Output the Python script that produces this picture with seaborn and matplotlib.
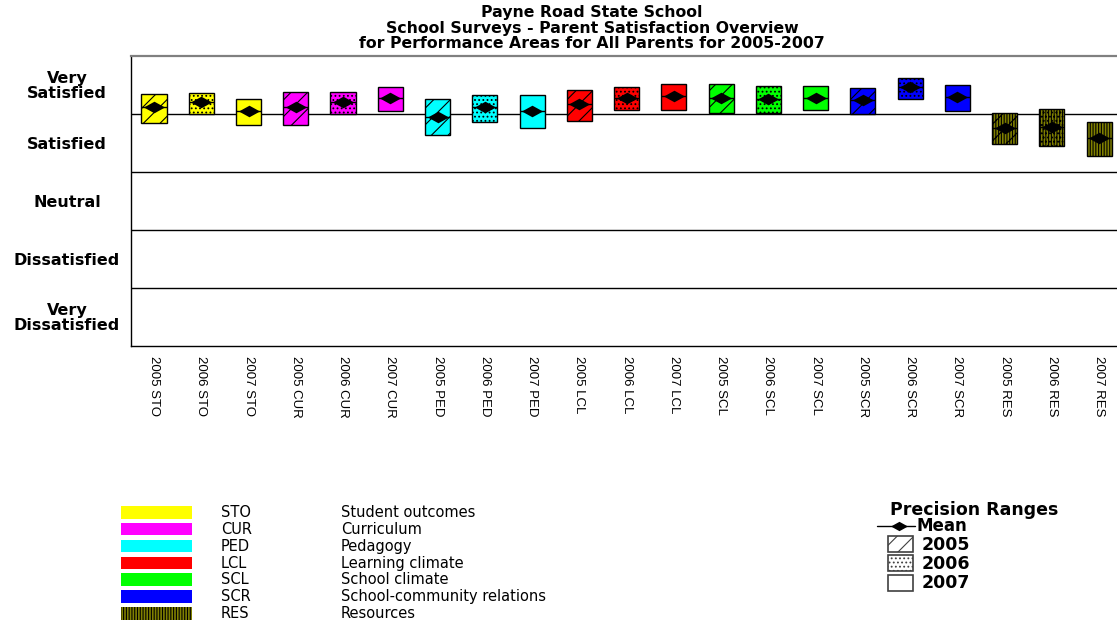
"""Payne Road State School - parent satisfaction precision ranges chart."""

import matplotlib
matplotlib.use("Agg")
import matplotlib.pyplot as plt
from matplotlib.patches import Rectangle
from matplotlib.lines import Line2D
from matplotlib.path import Path as MPath
import pandas as pd
import seaborn as sns

AREAS = ["STO", "CUR", "PED", "LCL", "SCL", "SCR", "RES"]
AREA_NAMES = ["Student outcomes", "Curriculum", "Pedagogy", "Learning climate",
              "School climate", "School-community relations", "Resources"]
AREA_COLORS = ["#ffff00", "#ff00ff", "#00ffff", "#ff0000", "#00ff00", "#0000ff", "#808000"]
YEARS = ["2005", "2006", "2007"]
RATINGS = ["Very\nSatisfied", "Satisfied", "Neutral", "Dissatisfied", "Very\nDissatisfied"]

# one value per (area, year), in AREAS x YEARS order
MEANS = [4.12, 4.20, 4.04, 4.11, 4.20, 4.28, 3.95, 4.11, 4.05, 4.17, 4.28,
         4.30, 4.28, 4.26, 4.28, 4.24, 4.46, 4.29, 3.76, 3.78, 3.59]
LOWS = [3.84, 4.00, 3.81, 3.81, 4.00, 4.04, 3.64, 3.86, 3.76, 3.88, 4.07,
        4.06, 4.02, 4.02, 4.06, 3.99, 4.25, 4.04, 3.48, 3.45, 3.28]
HIGHS = [4.34, 4.36, 4.25, 4.37, 4.37, 4.46, 4.25, 4.32, 4.32, 4.41, 4.46,
         4.51, 4.51, 4.48, 4.48, 4.44, 4.62, 4.49, 4.01, 4.08, 3.85]

YEAR_HATCH = {"2005": "//", "2006": "....", "2007": ""}
RES_HATCH = "||||||"
BOX_W = 0.53

sns.set_style("white")
plt.rcParams["font.family"] = ["DejaVu Sans"]
plt.rcParams["hatch.linewidth"] = 0.8
plt.rcParams["text.color"] = "black"
plt.rcParams["xtick.color"] = "black"
plt.rcParams["ytick.color"] = "black"

rows = []
for i, area in enumerate(AREAS):
    for j, year in enumerate(YEARS):
        k = i * 3 + j
        rows.append(dict(pos=k, area=area, year=year, label=f"{year} {area}",
                         color=AREA_COLORS[i], mean=MEANS[k], lo=LOWS[k], hi=HIGHS[k]))
df = pd.DataFrame(rows)

W, H = 1117, 626
fig = plt.figure(figsize=(W / 100, H / 100), dpi=100)
ax = fig.add_axes([131 / W, (H - 346) / H, 1 - 131 / W, (346 - 55.7) / H])

# precision range boxes
for _, r in df.iterrows():
    hatch = YEAR_HATCH[r.year]
    if r.area == "RES":
        hatch = RES_HATCH + hatch
    ax.bar(r.pos, r.hi - r.lo, bottom=r.lo, width=BOX_W, color=r.color,
           edgecolor="black", linewidth=1, hatch=hatch, zorder=3)
ax.hlines(df["mean"], df.pos - BOX_W / 2, df.pos + BOX_W / 2, color="black",
          linewidth=1, zorder=4)

diamond = MPath([(-1, 0), (0, 0.55), (1, 0), (0, -0.55), (-1, 0)],
                [MPath.MOVETO, MPath.LINETO, MPath.LINETO, MPath.LINETO, MPath.CLOSEPOLY])
sns.scatterplot(data=df, x="pos", y="mean", marker=diamond, s=230, color="black",
                edgecolor="black", linewidth=0, legend=False, zorder=5, ax=ax)

ax.set_xlim(-0.487, 20.38)
ax.set_ylim(0, 5)
ax.set_xticks(df.pos)
ax.set_xticklabels(df.label, rotation=270,
                   fontfamily=["Liberation Sans", "DejaVu Sans"], fontsize=9.5)
ax.set_yticks([4.5, 3.5, 2.5, 1.5, 0.5])
ax.set_yticklabels(RATINGS, fontweight="bold", fontsize=11.5, linespacing=0.95)
for t in ax.get_yticklabels():
    t.set_ha("center")
    t.set_multialignment("center")
ax.set_yticks([1, 2, 3, 4], minor=True)
ax.grid(which="minor", axis="y", color="black", linewidth=1)
ax.grid(which="major", visible=False)
ax.tick_params(axis="y", which="both", length=0, pad=46)
ax.tick_params(axis="x", length=3, width=1, color="black", pad=4, direction="out")
ax.set_xlabel("")
ax.set_ylabel("")
ax.spines["right"].set_visible(False)
ax.spines["top"].set_color("#808080")
ax.spines["top"].set_linewidth(1.6)
for s in ("left", "bottom"):
    ax.spines[s].set_color("black")
    ax.spines[s].set_linewidth(1)

# title
for y, line in zip([12, 28, 44], ["Payne Road State School",
                                  "School Surveys - Parent Satisfaction Overview",
                                  "for Performance Areas for All Parents for 2005-2007"]):
    fig.text(592 / W, 1 - y / H, line, ha="center", va="center",
             fontweight="bold", fontsize=11.3)

# legends, laid out in pixel coords
lax = fig.add_axes([0, 0, 1, 1])
lax.set_xlim(0, W)
lax.set_ylim(H, 0)
lax.axis("off")

for i, (code, name, col) in enumerate(zip(AREAS, AREA_NAMES, AREA_COLORS)):
    top = 506 + i * 16.85
    lax.add_patch(Rectangle((120.5, top), 71, 12.5, facecolor=col, edgecolor="black",
                            linewidth=0, hatch=RES_HATCH if code == "RES" else None))
    lax.text(221, top + 6.5, code, va="center", fontsize=10.5)
    lax.text(341, top + 6.5, name, va="center", fontsize=10.5)

lax.text(890, 510, "Precision Ranges", va="center", fontweight="bold", fontsize=12.5)
lax.add_line(Line2D([877, 915], [526, 526], color="black", linewidth=1))
lax.scatter([899], [526], marker=diamond, s=150, color="black", linewidths=0, zorder=5)
lax.text(916, 526, "Mean", va="center", fontweight="bold", fontsize=12)
for i, year in enumerate(YEARS):
    top = 535.5 + i * 19.5
    lax.add_patch(Rectangle((888, top), 25, 16, facecolor="white", edgecolor="#404040",
                            linewidth=1.2, hatch=YEAR_HATCH[year] or None))
    lax.text(922, top + 9, year, va="center", fontweight="bold", fontsize=12.5)

fig.savefig("out.png", dpi=100)
